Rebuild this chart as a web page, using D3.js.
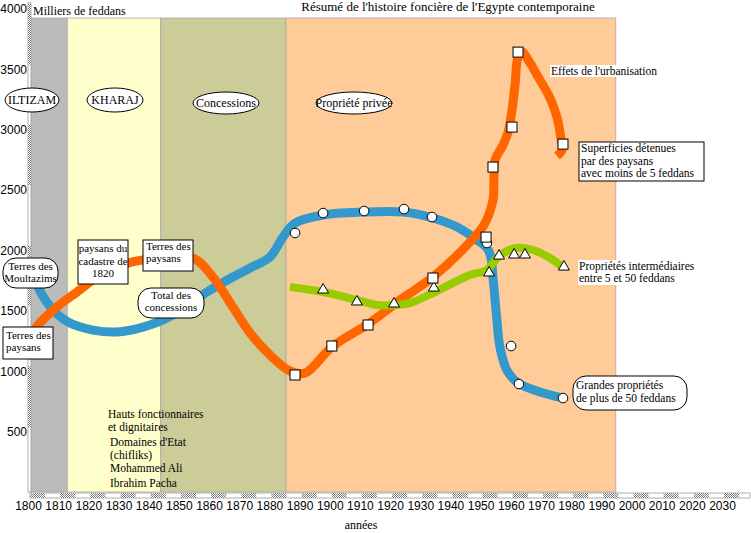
<!DOCTYPE html>
<html>
<head>
<meta charset="utf-8">
<script src="https://cdnjs.cloudflare.com/ajax/libs/d3/7.8.5/d3.min.js"></script>
<style>
body { margin: 0; background: #fff; }
svg { display: block; }
text { font-family: "Liberation Serif", "Times New Roman", serif; font-size: 12px; fill: #000; }
.axis text { font-family: "Liberation Sans", Arial, sans-serif; font-size: 12px; }
</style>
</head>
<body>
<svg id="chart" width="751" height="533"></svg>
<script>
// axis ticks
const xTicks = d3.range(1800, 2031, 10);
const yTicks = d3.range(500, 4001, 500);

// historical periods (years)
const periodNames = ["ILTIZAM", "KHARAJ", "Concessions", "Propriété privée"];
const periodStart = [1800.5, 1813, 1844, 1885.5];
const periodEnd = [1813, 1844, 1885.5, 1994.8];

// small holdings (orange line), [year, thousands of feddans]
const smallYears = [1802, 1803.3, 1809.6, 1816.2, 1823.9, 1833.1, 1843.7, 1854.7, 1861.3, 1867.9, 1873.6, 1880.2, 1886.8, 1891.8, 1900.7, 1912.7, 1923.3, 1934.2, 1946.5, 1951.1, 1954.1, 1954.4, 1954.8, 1957.4, 1959.1, 1960.4, 1961.4, 1962.4, 1963.7, 1966.4, 1968.7, 1973.0, 1975.3, 1976.6, 1977.0, 1975.3];
const smallValues = [1330, 1383, 1532, 1656, 1797, 1896, 1937, 1937, 1780, 1532, 1317, 1134, 1002, 985, 1201, 1391, 1590, 1780, 2070, 2211, 2418, 2583, 2749, 2873, 2981, 3163, 3370, 3602, 3643, 3552, 3453, 3262, 3105, 2931, 2832, 2782];
const smallMarkYears = [1888.5, 1900.7, 1912.7, 1934.2, 1951.8, 1954.1, 1960.4, 1962.4, 1977.3];
const smallMarkValues = [969, 1209, 1383, 1772, 2111, 2691, 3022, 3643, 2881];

// large holdings (blue line)
const largeYears = [1802.3, 1803.3, 1808.3, 1813.9, 1821.5, 1829.5, 1838.1, 1846.1, 1859.3, 1867.9, 1873.6, 1880.2, 1884.5, 1888.5, 1897.8, 1911.0, 1924.3, 1934.2, 1942.2, 1948.8, 1952.1, 1953.4, 1954.1, 1954.8, 1955.4, 1956.4, 1958.7, 1962.4, 1969.7, 1977.3];
const largeValues = [1772, 1697, 1507, 1399, 1341, 1325, 1366, 1441, 1656, 1780, 1855, 1946, 2111, 2227, 2294, 2318, 2318, 2269, 2194, 2087, 2020, 1946, 1780, 1590, 1424, 1201, 1010, 903, 828, 778];
const largeMarkYears = [1888.5, 1897.8, 1911.4, 1924.6, 1933.9, 1952.1, 1960.1, 1962.7, 1977.3];
const largeMarkValues = [2145, 2310, 2327, 2343, 2277, 2062, 1209, 894, 778];

// intermediate holdings (green line)
const midYears = [1886.8, 1897.8, 1909.0, 1915.7, 1921.3, 1926.6, 1934.2, 1946.5, 1952.1, 1955.8, 1961.4, 1967.4, 1973.0, 1977.6];
const midValues = [1697, 1656, 1590, 1548, 1548, 1565, 1648, 1797, 1838, 1946, 2020, 2004, 1938, 1855];
const midMarkYears = [1897.8, 1909.0, 1921.3, 1934.5, 1952.8, 1956.1, 1961.1, 1964.7, 1977.6];
const midMarkValues = [1681, 1582, 1565, 1697, 1822, 1962, 1971, 1971, 1871];

const bandColors = ["#bbbbbb", "#ffffcc", "#cccc99", "#ffcc99"];

const svg = d3.select("#chart");
const x = d3.scaleLinear().domain([1800, 2030]).range([28, 722]);
const y = d3.scaleLinear().domain([0, 4000]).range([492, 9]);
const bandTop = 18;

const defs = svg.append("defs");
const pat = defs.append("pattern").attr("id", "chk")
  .attr("width", 2).attr("height", 2).attr("patternUnits", "userSpaceOnUse");
pat.append("rect").attr("width", 2).attr("height", 2).attr("fill", "#fff");
pat.append("rect").attr("width", 1).attr("height", 1).attr("fill", "#7a7a7a");
pat.append("rect").attr("x", 1).attr("y", 1).attr("width", 1).attr("height", 1).attr("fill", "#7a7a7a");

// period bands
svg.append("g").selectAll("rect")
  .data(periodNames)
  .join("rect")
  .attr("x", (d, i) => x(periodStart[i]))
  .attr("width", (d, i) => x(periodEnd[i]) - x(periodStart[i]))
  .attr("y", bandTop)
  .attr("height", y(0) - bandTop)
  .attr("fill", (d, i) => bandColors[i])
  .attr("stroke", "#a8a8a8")
  .attr("stroke-width", 0.8);

// axis bars with alternating checkered segments
svg.append("rect").attr("x", 30).attr("y", 493).attr("width", 720).attr("height", 5)
  .attr("fill", "#fff").attr("stroke", "#999").attr("stroke-width", 0.8);
svg.append("g").selectAll("rect")
  .data(d3.range(1800, 2040, 10))
  .join("rect")
  .attr("x", d => x(d) + 2)
  .attr("width", d => Math.min(x(d + 5) + 2, 750) - x(d) - 2)
  .attr("y", 493).attr("height", 5)
  .attr("fill", "url(#chk)");

svg.append("rect").attr("x", 28).attr("y", y(4000) - 6).attr("width", 3).attr("height", y(0) - y(4000) + 6)
  .attr("fill", "#fff").attr("stroke", "#999").attr("stroke-width", 0.8);
svg.append("g").selectAll("rect")
  .data([3500, 2500, 1500, 500])
  .join("rect")
  .attr("x", 28).attr("width", 3)
  .attr("y", d => y(d + 500) - 5)
  .attr("height", d => y(d) - y(d + 500))
  .attr("fill", "url(#chk)");

// axes (labels only)
const xAxis = svg.append("g").attr("class", "axis")
  .attr("transform", "translate(0,498)")
  .call(d3.axisBottom(x).tickValues(xTicks).tickSize(0).tickPadding(3).tickFormat(d3.format("d")));
xAxis.select(".domain").remove();

const yAxis = svg.append("g").attr("class", "axis")
  .attr("transform", "translate(27,0)")
  .call(d3.axisLeft(y).tickValues(yTicks).tickSize(0).tickPadding(0).tickFormat(d3.format("d")));
yAxis.select(".domain").remove();

// lines
const line = d3.line()
  .x(d => x(d[0]))
  .y(d => y(d[1]))
  .curve(d3.curveCatmullRom.alpha(0.5));

const series = [
  { years: largeYears, values: largeValues, color: "#3399cc", width: 9 },
  { years: smallYears, values: smallValues, color: "#ff6600", width: 9 },
  { years: midYears, values: midValues, color: "#99cc00", width: 8 }
];

svg.append("g").selectAll("path")
  .data(series)
  .join("path")
  .attr("d", s => line(s.years.map((yr, i) => [yr, s.values[i]])))
  .attr("fill", "none")
  .attr("stroke", s => s.color)
  .attr("stroke-width", s => s.width)
  .attr("stroke-linejoin", "round");

// markers
const mk = svg.append("g").attr("fill", "#fff").attr("stroke", "#000").attr("stroke-width", 1);
mk.selectAll("circle")
  .data(largeMarkYears.map((yr, i) => [yr, largeMarkValues[i]]))
  .join("circle")
  .attr("cx", d => x(d[0])).attr("cy", d => y(d[1])).attr("r", 4.8);
mk.selectAll("path.tri")
  .data(midMarkYears.map((yr, i) => [yr, midMarkValues[i]]))
  .join("path")
  .attr("class", "tri")
  .attr("d", d => `M${x(d[0])},${y(d[1]) - 5.5}L${x(d[0]) + 5.5},${y(d[1]) + 4}L${x(d[0]) - 5.5},${y(d[1]) + 4}Z`);
mk.selectAll("rect")
  .data(smallMarkYears.map((yr, i) => [yr, smallMarkValues[i]]))
  .join("rect")
  .attr("x", d => x(d[0]) - 5).attr("y", d => y(d[1]) - 5)
  .attr("width", 10).attr("height", 10);

// period label ellipses
const periodLabelPos = [[32, 100, 27, 12], [115, 100, 28, 12], [226, 103, 33, 11], [354, 103, 38, 11]];
const pl = svg.append("g");
periodNames.forEach((name, i) => {
  const [cx, cy, rx, ry] = periodLabelPos[i];
  pl.append("ellipse").attr("cx", cx).attr("cy", cy).attr("rx", rx).attr("ry", ry)
    .attr("fill", "#fff").attr("stroke", "#000");
  pl.append("text").attr("x", cx).attr("y", cy + 4).attr("text-anchor", "middle").text(name);
});

// boxed annotations
function box(x0, y0, w, h, r, lines, anchor, tx, ty, lh, fs) {
  const g = svg.append("g");
  g.append("rect").attr("x", x0).attr("y", y0).attr("width", w).attr("height", h)
    .attr("rx", r).attr("fill", "#fff").attr("stroke", "#000");
  g.selectAll("text").data(lines).join("text")
    .attr("x", tx).attr("y", (d, i) => ty + i * lh)
    .attr("text-anchor", anchor)
    .style("font-size", fs + "px")
    .text(d => d);
}
box(3, 258, 55, 30, 13, ["Terres des", "Moultazims"], "middle", 30.5, 270, 12, 11);
box(78, 240, 50, 44, 0, ["paysans du", "cadastre de", "1820"], "middle", 103, 252, 12.5, 11);
box(143, 240, 50, 31, 0, ["Terres des", "paysans"], "start", 146, 250, 12, 11);
box(138, 288, 66, 30, 13, ["Total des", "concessions"], "middle", 171, 299, 12, 11);
box(3, 327, 50, 32, 0, ["Terres des", "paysans"], "start", 6, 339, 12, 11);
box(579, 142, 125, 39, 0, ["Superficies détenues", "par des paysans", "avec moins de 5 feddans"], "start", 581, 152, 12.5, 11.5);
box(573, 376, 114, 34, 13, ["Grandes propriétés", "de plus de 50 feddans"], "start", 576, 389, 13, 11.5);

// free annotations on white background
svg.append("rect").attr("x", 550).attr("y", 65).attr("width", 112).attr("height", 12).attr("fill", "#fff");
svg.append("text").attr("x", 551).attr("y", 75).style("font-size", "11.5px").text("Effets de l'urbanisation");
svg.append("rect").attr("x", 578).attr("y", 260).attr("width", 121).attr("height", 25).attr("fill", "#fff");
svg.append("text").attr("x", 579).attr("y", 270).style("font-size", "11.5px").text("Propriétés intermédiaires");
svg.append("text").attr("x", 579).attr("y", 282).style("font-size", "11.5px").text("entre 5 et 50 feddans");

// holders of the large estates
const holders = [["Hauts fonctionnaires", 108, 418], ["et dignitaires", 108, 431], ["Domaines d'Etat", 110, 446],
  ["(chifliks)", 110, 459], ["Mohammed Ali", 110, 472], ["Ibrahim Pacha", 110, 487]];
svg.append("g").selectAll("text").data(holders).join("text")
  .attr("x", d => d[1]).attr("y", d => d[2])
  .style("font-size", "11.5px")
  .text(d => d[0]);

// titles
svg.append("text").attr("x", 448).attr("y", 11).attr("text-anchor", "middle")
  .style("font-size", "13px").text("Résumé de l'histoire foncière de l'Egypte contemporaine");
svg.append("text").attr("x", 33).attr("y", 15).style("font-size", "12px").text("Milliers de feddans");
svg.append("text").attr("x", 361).attr("y", 529).attr("text-anchor", "middle")
  .style("font-size", "12px").text("années");
</script>
</body>
</html>
